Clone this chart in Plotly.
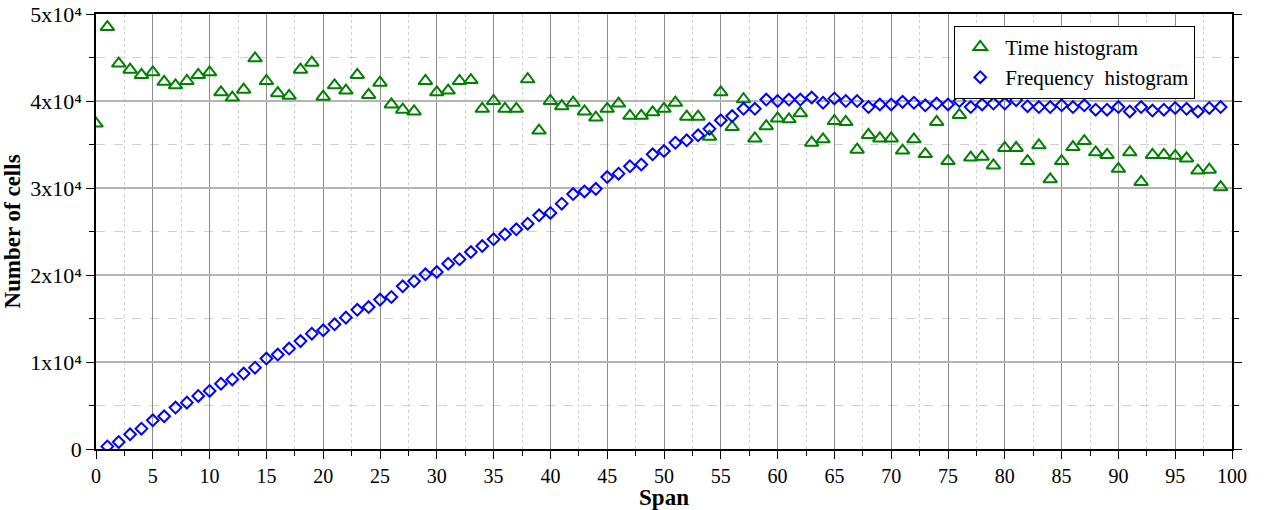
import plotly.graph_objects as go

# ---- data ----
time_x = list(range(0, 100))
time_y = [37400, 48500, 44300, 43600, 43000, 43300, 42200, 41800, 42300, 43000,
          43300, 41000, 40400, 41300, 44900, 42300, 40900, 40600, 43600, 44400,
          40500, 41800, 41200, 43000, 40700, 42100, 39600, 39000, 38800, 42300,
          41000, 41200, 42300, 42400, 39100, 40000, 39100, 39100, 42500, 36600,
          40000, 39400, 39800, 38800, 38100, 39100, 39700, 38300, 38300, 38700,
          39100, 39800, 38200, 38200, 35900, 41000, 37000, 40200, 35700, 37100,
          38000, 37900, 38600, 35200, 35600, 37700, 37600, 34400, 36100, 35700,
          35700, 34300, 35600, 33900, 37600, 33100, 38400, 33500, 33600, 32600,
          34600, 34600, 33100, 34900, 31000, 33100, 34700, 35400, 34100, 33800,
          32200, 34100, 30700, 33800, 33800, 33700, 33400, 32000, 32100, 30100]

freq_x = list(range(1, 100))
freq_y = [300, 800, 1690, 2340, 3300, 3760, 4760, 5330, 6100, 6670,
          7500, 8000, 8670, 9350, 10400, 10850, 11540, 12400, 13260, 13640,
          14330, 15100, 16000, 16320, 17170, 17470, 18700, 19280, 20080, 20340,
          21300, 21800, 22640, 23330, 24100, 24680, 25250, 25900, 26860, 27130,
          28200, 29300, 29600, 29900, 31260, 31650, 32500, 32700, 33870, 34250,
          35200, 35480, 36050, 36800, 37780, 38270, 39100, 39100, 40160, 40000,
          40160, 40160, 40400, 39800, 40300, 40000, 40000, 39300, 39600, 39600,
          39900, 39800, 39500, 39700, 39600, 40000, 39300, 39600, 39700, 39700,
          40100, 39400, 39300, 39300, 39500, 39300, 39500, 39000, 39000, 39300,
          38800, 39300, 38900, 39000, 39200, 39100, 38800, 39200, 39300]

x_ticks = list(range(0, 101, 5))
y_tickvals = [0, 10000, 20000, 30000, 40000, 50000]
y_ticktext = ["0", "1x10⁴", "2x10⁴", "3x10⁴", "4x10⁴", "5x10⁴"]

GREEN = "#008000"
BLUE = "#0000ff"
FONT = "Liberation Serif, Times New Roman, serif"

fig = go.Figure()
fig.add_trace(go.Scatter(
    x=time_x, y=time_y, mode="markers", name="Time histogram",
    marker=dict(symbol="triangle-up-open", size=12, color=GREEN,
                line=dict(color=GREEN, width=2)),
    cliponaxis=True,
))
fig.add_trace(go.Scatter(
    x=freq_x, y=freq_y, mode="markers", name="Frequency  histogram",
    marker=dict(symbol="diamond-open", size=9, color=BLUE,
                line=dict(color=BLUE, width=2)),
    cliponaxis=True,
))

fig.update_layout(
    width=1266, height=510,
    margin=dict(l=96, r=34, t=14, b=61),
    paper_bgcolor="white", plot_bgcolor="white",
    font=dict(family=FONT, size=19, color="black"),
    showlegend=True,
    legend=dict(
        x=0.7555, y=0.973, xanchor="left", yanchor="top",
        bgcolor="white", bordercolor="black", borderwidth=1,
        font=dict(family=FONT, size=21, color="black"),
        itemsizing="trace", tracegroupgap=0, itemwidth=40,
    ),
)

fig.update_xaxes(
    range=[0, 100], tickvals=x_ticks, automargin=False,
    showline=True, linecolor="black", linewidth=1.5, mirror=True,
    ticks="outside", ticklen=8, tickwidth=1, tickcolor="black",
    showgrid=True, gridcolor="#8c8c8c", gridwidth=1,
    zeroline=False,
    minor=dict(dtick=2.5, ticks="outside", ticklen=5, tickcolor="black",
               showgrid=True, gridcolor="#d0d0d0", griddash="dot", gridwidth=1),
    title=dict(text="<b>Span</b>", font=dict(family=FONT, size=23), standoff=2),
    tickfont=dict(family=FONT, size=20),
)
fig.update_yaxes(
    range=[0, 50000], tickvals=y_tickvals, ticktext=y_ticktext, automargin=False,
    showline=True, linecolor="black", linewidth=1.5, mirror="allticks",
    ticks="outside", ticklen=8, tickwidth=1, tickcolor="black",
    showgrid=True, gridcolor="#b4b4b4", gridwidth=1.5,
    zeroline=False,
    minor=dict(dtick=5000, ticks="outside", ticklen=5, tickcolor="black",
               showgrid=True, gridcolor="#d0d0d0", griddash="dash", gridwidth=1),
    title=dict(text="<b>Number of cells</b>", font=dict(family=FONT, size=23), standoff=4),
    tickfont=dict(family=FONT, size=22),
    ticklabeloverflow="allow",
)

fig.write_html("out.html", config={"displayModeBar": False},
               post_script="document.body.style.margin='0';document.body.style.padding='0';")
